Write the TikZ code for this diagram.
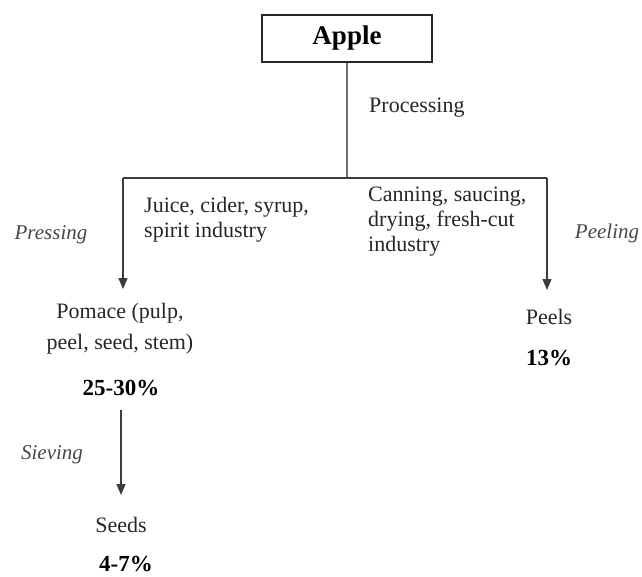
\documentclass[tikz,border=0pt]{standalone}
\usepackage{fontspec}
\setmainfont{Liberation Serif}
\usetikzlibrary{arrows.meta}

\definecolor{linegray}{HTML}{3C3C3C}
\definecolor{stemgray}{HTML}{6E6E6E}
\definecolor{textgray}{HTML}{262626}

\tikzset{
  txt/.style={text=textgray, font=\fontsize{22}{25}\selectfont, inner sep=0pt, align=left},
  step label/.style={text=textgray!85, font=\fontsize{21}{25}\selectfont\itshape, inner sep=0pt},
  pct/.style={text=black, font=\fontsize{23}{26}\selectfont\bfseries, inner sep=0pt},
  arr/.style={-{Triangle[width=9pt,length=11pt]}, line width=1.3pt, draw=linegray},
}

\begin{document}
\begin{tikzpicture}[x=1pt, y=-1pt] % one unit = one pixel of the reference
        \useasboundingbox (0,0) rectangle (642,576);

        % top box
        \node[draw=textgray, line width=1.3pt, minimum width=170pt, minimum height=47pt,
              font=\fontsize{27}{30}\selectfont\bfseries, text=black] (apple) at (347,38.5) {Apple};
        \node[txt, anchor=west] (processing) at (369,108) {Processing};

        % branch
        \coordinate (split) at (347,178);
        \coordinate (lcorner) at (123,178);
        \coordinate (rcorner) at (547,178);
        \draw[stemgray, line width=1.7pt] (apple.south) -- (split);
        \draw[linegray, line width=1.3pt] (lcorner) -- (rcorner);

        % labels under the branch
        \node[step label] (pressing) at (51,235) {Pressing};
        \node[step label] (peeling) at (607,233) {Peeling};
        \node[txt, anchor=west] (juice) at (144,219.5) {Juice, cider, syrup,\\spirit industry};
        \node[txt, anchor=west] (canning) at (368,222) {Canning, saucing,\\drying, fresh-cut\\industry};

        % products
        \node[txt, align=center, font=\fontsize{22}{31}\selectfont] (pomace) at (120,328.5) {Pomace (pulp,\\peel, seed, stem)};
        \node[pct] (pomacepct) at (121,388) {25-30\%};
        \node[txt] (peels) at (549,317) {Peels};
        \node[pct] (peelspct) at (549,358) {13\%};
        \node[txt] (seeds) at (121,525) {Seeds};
        \node[pct] (seedspct) at (126,564) {4-7\%};
        \node[step label, font=\fontsize{21}{24}\selectfont\itshape] (sieving) at (52,455) {Sieving};

        % arrows
        \draw[arr] (lcorner) -- (lcorner |- 0,289);
        \draw[arr] (rcorner) -- (rcorner |- 0,290);
        \draw[arr] (pomacepct.south |- 0,410) -- (seeds.north |- 0,495);

    \end{tikzpicture}
\end{document}
